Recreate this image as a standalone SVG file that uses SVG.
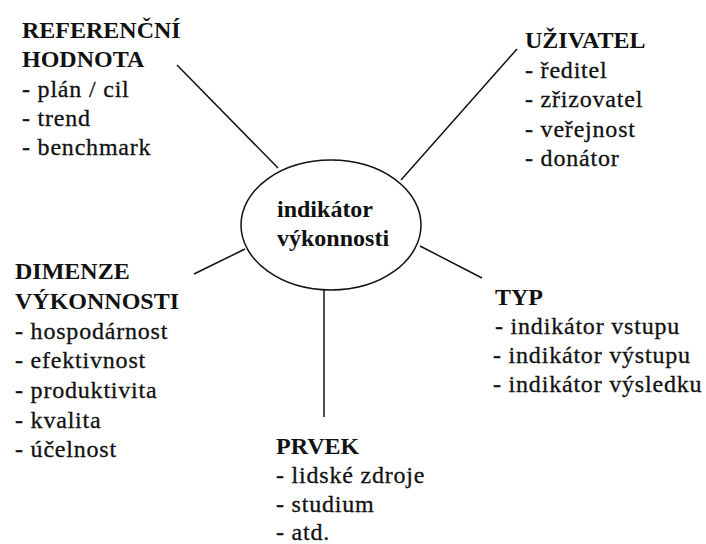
<svg xmlns="http://www.w3.org/2000/svg" width="706" height="544" viewBox="0 0 706 544">
  <style>
    text { font-family: "Liberation Serif", "Times New Roman", serif; fill: #111; }
    .h { font-weight: bold; font-size: 24px; }
    .i { font-size: 24px; letter-spacing: 0.8px; stroke: #111; stroke-width: 0.3px; }
    .ln { stroke: #111; stroke-width: 1.5; fill: none; }
  </style>
  <rect width="706" height="544" fill="#fff"/>

  <!-- connectors from the centre ellipse to each branch -->
  <g id="connectors" class="ln">
    <line x1="177" y1="65" x2="278" y2="168"/>
    <line x1="517" y1="49" x2="401" y2="180"/>
    <line x1="194" y1="274" x2="245" y2="249"/>
    <line x1="420" y1="246" x2="482" y2="278"/>
    <line x1="324" y1="290" x2="324" y2="417"/>
  </g>

  <g id="center">
    <ellipse cx="331" cy="225" rx="90" ry="65" class="ln"/>
    <text class="h" x="277" y="217">indikátor</text>
    <text class="h" x="277" y="246">výkonnosti</text>
  </g>

  <g id="referencni-hodnota">
    <text class="h" x="22" y="38">REFERENČNÍ</text>
    <text class="h" x="22" y="67">HODNOTA</text>
    <text class="i" x="22" y="97">- plán / cil</text>
    <text class="i" x="22" y="126">- trend</text>
    <text class="i" x="22" y="155">- benchmark</text>
  </g>

  <g id="uzivatel">
    <text class="h" x="525" y="48">UŽIVATEL</text>
    <text class="i" x="525" y="78">- ředitel</text>
    <text class="i" x="525" y="107">- zřizovatel</text>
    <text class="i" x="525" y="137">- veřejnost</text>
    <text class="i" x="525" y="166">- donátor</text>
  </g>

  <g id="dimenze-vykonnosti">
    <text class="h" x="15" y="279">DIMENZE</text>
    <text class="h" x="15" y="309">VÝKONNOSTI</text>
    <text class="i" x="15" y="339">- hospodárnost</text>
    <text class="i" x="15" y="368">- efektivnost</text>
    <text class="i" x="15" y="398">- produktivita</text>
    <text class="i" x="15" y="428">- kvalita</text>
    <text class="i" x="15" y="457">- účelnost</text>
  </g>

  <g id="typ">
    <text class="h" x="495" y="305">TYP</text>
    <text class="i" x="495" y="334">- indikátor vstupu</text>
    <text class="i" x="493" y="363">- indikátor výstupu</text>
    <text class="i" x="493" y="392">- indikátor výsledku</text>
  </g>

  <g id="prvek">
    <text class="h" x="276" y="454">PRVEK</text>
    <text class="i" x="276" y="483">- lidské zdroje</text>
    <text class="i" x="276" y="512">- studium</text>
    <text class="i" x="276" y="540">- atd.</text>
  </g>
</svg>
